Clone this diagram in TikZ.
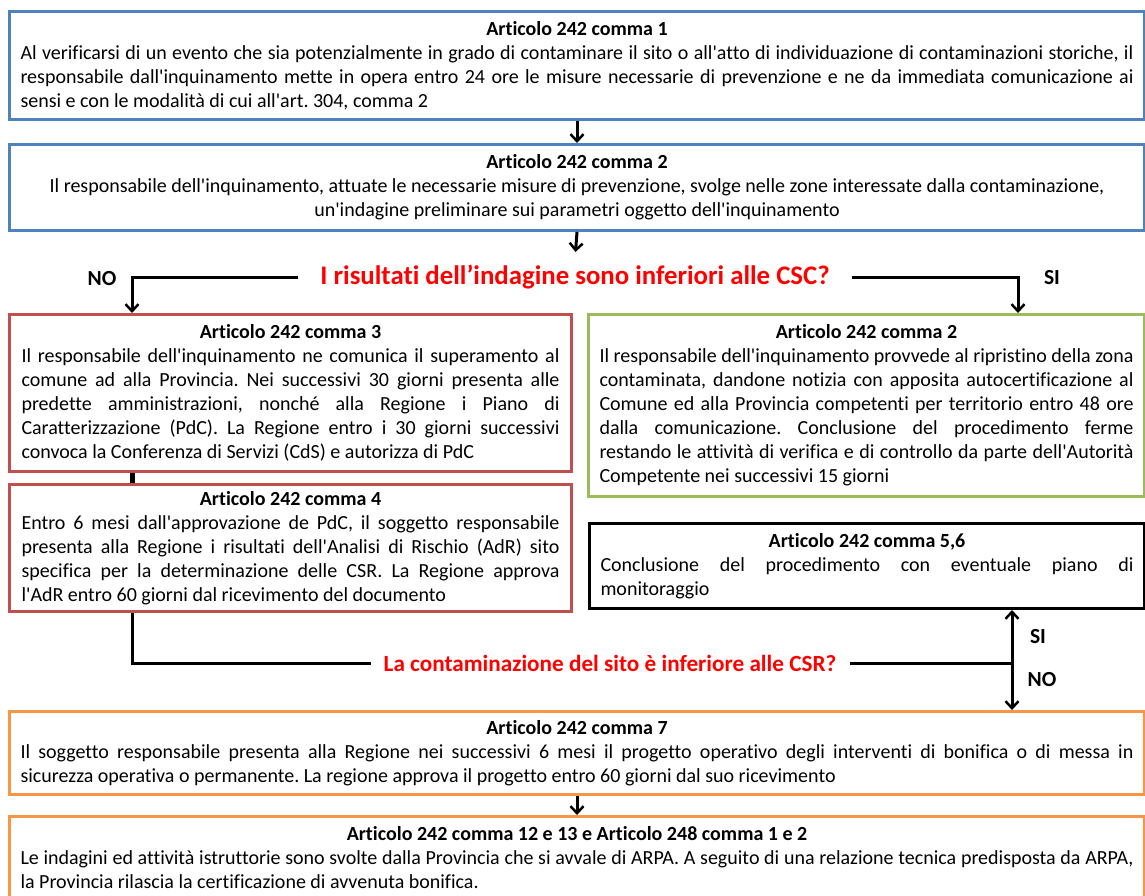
\documentclass[tikz,border=0pt]{standalone}
\usepackage{fontspec}
\setmainfont{Carlito}[Ligatures={TeXOff,CommonOff}]
\usetikzlibrary{arrows.meta}
\definecolor{cblue}{HTML}{4F81BD}
\definecolor{cred}{HTML}{C0504D}
\definecolor{cgreen}{HTML}{9BBB59}
\definecolor{corange}{HTML}{F79646}
\definecolor{qred}{HTML}{FF0000}
\frenchspacing
\tikzset{
  box/.style={draw, line width=3pt, rectangle, anchor=north west, inner xsep=0pt, inner ysep=0pt,
    font=\fontsize{20pt}{24pt}\selectfont\frenchspacing, align=justify},
  quest/.style={text=qred, inner ysep=0pt},
  lbl/.style={font=\fontsize{21.5pt}{26pt}\selectfont\bfseries, inner sep=0pt},
  conn/.style={line width=3pt, draw=black},
  arr/.style={conn, -{Straight Barb[length=7pt,width=13pt,line width=2.5pt]}},
}
\newcommand{\ttl}[1]{{\centering\bfseries #1\par}}
\begin{document}
\begin{tikzpicture}[x=1pt,y=-1pt]
\useasboundingbox (0,0) rectangle (1145,895);
\clip (0,0) rectangle (1145,895);

\node[box, draw=cblue, minimum width=1135pt, minimum height=108pt, text width=1113pt] (b1) at (8,10) {%
\ttl{Articolo 242 comma 1}
Al verificarsi di un evento che sia potenzialmente in grado di contaminare il sito o all'atto di individuazione di contaminazioni storiche, il\linebreak
responsabile dall'inquinamento mette in opera entro 24 ore le misure necessarie di prevenzione e ne da immediata comunicazione ai\linebreak
sensi e con le modalità di cui all'art. 304, comma 2};

\node[box, draw=cblue, minimum width=1135pt, minimum height=86pt, text width=1113pt, align=flush center] (b2) at (8,143) {%
\textbf{Articolo 242 comma 2}\\
Il responsabile dell'inquinamento, attuate le necessarie misure di prevenzione, svolge nelle zone interessate dalla contaminazione,\\
un'indagine preliminare sui parametri oggetto dell'inquinamento};

\node[quest, inner xsep=22pt, font=\fontsize{26.8pt}{30pt}\selectfont\bfseries] (q1) at (575,277) {I risultati dell’indagine sono inferiori alle CSC?};

\node[box, draw=cred, minimum width=562pt, minimum height=157pt, text width=538pt] (b3) at (8,313) {%
\ttl{Articolo 242 comma 3}
Il responsabile dell'inquinamento ne comunica il superamento al\linebreak
comune ad alla Provincia. Nei successivi 30 giorni presenta alle\linebreak
predette amministrazioni, nonché alla Regione i Piano di\linebreak
Caratterizzazione (PdC). La Regione entro i 30 giorni successivi\linebreak
convoca la Conferenza di Servizi (CdS) e autorizza di PdC};

\node[box, draw=cred, minimum width=562pt, minimum height=127pt, text width=538pt] (b4) at (8,483) {%
\ttl{Articolo 242 comma 4}
Entro 6 mesi dall'approvazione de PdC, il soggetto responsabile\linebreak
presenta alla Regione i risultati dell'Analisi di Rischio (AdR) sito\linebreak
specifica per la determinazione delle CSR. La Regione approva\linebreak
l'AdR entro 60 giorni dal ricevimento del documento};

\node[box, draw=cgreen, minimum width=556pt, minimum height=182pt, text width=534pt] (bg) at (587,313) {%
\ttl{Articolo 242 comma 2}
Il responsabile dell'inquinamento provvede al ripristino della zona\linebreak
contaminata, dandone notizia con apposita autocertificazione al\linebreak
Comune ed alla Provincia competenti per territorio entro 48 ore\linebreak
dalla comunicazione. Conclusione del procedimento ferme\linebreak
restando le attività di verifica e di controllo da parte dell'Autorità\linebreak
Competente nei successivi 15 giorni};

\node[box, draw=black, minimum width=555pt, minimum height=85pt, text width=533pt] (b56) at (588,522) {%
\ttl{Articolo 242 comma 5,6}
Conclusione del procedimento con eventuale piano di\linebreak
monitoraggio};

\node[quest, inner xsep=13pt, font=\fontsize{23.2pt}{28pt}\selectfont\bfseries] (q2) at (610,663) {La contaminazione del sito è inferiore alle CSR?};

\node[box, draw=corange, minimum width=1135pt, minimum height=83pt, text width=1113pt] (b7) at (8,710) {%
\ttl{Articolo 242 comma 7}
Il soggetto responsabile presenta alla Regione nei successivi 6 mesi il progetto operativo degli interventi di bonifica o di messa in\linebreak
sicurezza operativa o permanente. La regione approva il progetto entro 60 giorni dal suo ricevimento};

\node[box, draw=corange, minimum width=1135pt, minimum height=83pt, text width=1113pt] (b8) at (8,815) {%
\ttl{Articolo 242 comma 12 e 13 e Articolo 248 comma 1 e 2}
Le indagini ed attività istruttorie sono svolte dalla Provincia che si avvale di ARPA. A seguito di una relazione tecnica predisposta da ARPA,\linebreak
la Provincia rilascia la certificazione di avvenuta bonifica.};

\coordinate (q1top) at (575.5,252);
\coordinate (noc) at (132,277);
\coordinate (sic) at (1018,277);
\coordinate (j) at (1012,663);

\node[lbl] (no1) at (102,279) {NO};
\node[lbl] (si1) at (1052,278) {SI};
\node[lbl] (si2) at (1038,637) {SI};
\node[lbl] (no2) at (1042,680) {NO};

\draw[arr] (b1.south) -- (b2.north);
\draw[arr] (b2.south) -- (q1top);
\draw[arr] (q1.west) -- (noc) -- (noc |- b3.north);
\draw[arr] (q1.east) -- (sic) -- (sic |- bg.north);
\draw[line width=5pt] (noc |- b3.south) -- (noc |- b4.north);
\draw[conn] (noc |- b4.south) |- (q2.west);
\draw[conn] (q2.east) -- (j);
\draw[arr] (j) -- (j |- b56.south);
\draw[arr] (j) -- (j |- b7.north);
\draw[arr] (b7.south) -- (b8.north);
\end{tikzpicture}
\end{document}
